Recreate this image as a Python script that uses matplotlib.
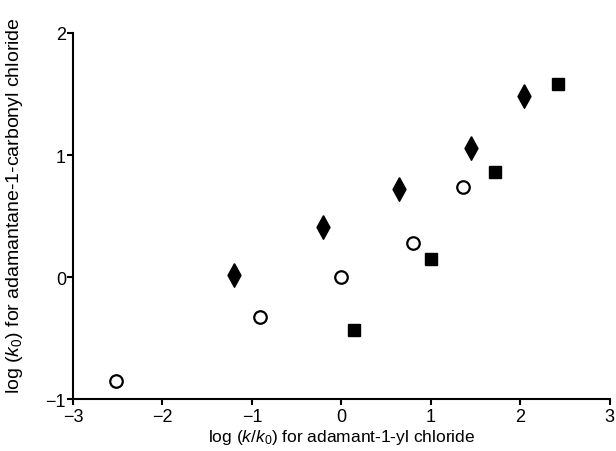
import matplotlib
matplotlib.use('Agg')
import matplotlib.pyplot as plt

plt.rcParams['font.family'] = ['Liberation Sans', 'DejaVu Sans']
plt.rcParams['mathtext.fontset'] = 'custom'
plt.rcParams['mathtext.rm'] = 'Liberation Sans'
plt.rcParams['mathtext.it'] = 'Liberation Sans:italic'

# datos
diamond_x = [-1.20, -0.21, 0.64, 1.45, 2.04]
diamond_y = [0.02, 0.41, 0.72, 1.06, 1.48]

circle_x = [-2.52, -0.91, -0.01, 0.80, 1.36]
circle_y = [-0.85, -0.33, 0.00, 0.28, 0.74]

square_x = [0.14, 1.00, 1.72, 2.42]
square_y = [-0.43, 0.15, 0.86, 1.58]

xticks = [-3, -2, -1, 0, 1, 2, 3]
yticks = [-1, 0, 1, 2]

# rombo alto y estrecho
rombo = [(0, 1), (0.55, 0), (0, -1), (-0.55, 0), (0, 1)]

fig = plt.figure(figsize=(6.16, 4.52), dpi=100)
ax = fig.add_axes([0.1185, 0.1144, 0.8715, 0.8106])

ax.plot(diamond_x, diamond_y, marker=rombo, color='black', markersize=17, linestyle='none')
ax.plot(circle_x, circle_y, 'o', markerfacecolor='white', markeredgecolor='black',
        markeredgewidth=1.6, markersize=9, linestyle='none')
ax.plot(square_x, square_y, 's', color='black', markersize=8.5, linestyle='none')

ax.set_xlim(-3, 3)
ax.set_ylim(-1, 2)
ax.set_xticks(xticks)
ax.set_yticks(yticks)

ax.spines['top'].set_visible(False)
ax.spines['right'].set_visible(False)
ax.spines['left'].set_linewidth(1.5)
ax.spines['bottom'].set_linewidth(1.5)
ax.tick_params(direction='out', length=4, width=1.5, labelsize=13)
ax.tick_params(axis='x', pad=2)
ax.tick_params(axis='y', pad=1)

ax.set_xlabel(r'log ($k$/$k_0$) for adamant-1-yl chloride', fontsize=12.5, labelpad=2)
ax.set_ylabel(r'log ($k_0$) for adamantane-1-carbonyl chloride', fontsize=14, labelpad=4)
ax.yaxis.set_label_coords(-0.09, 0.53)

plt.savefig('out.png', dpi=100)
